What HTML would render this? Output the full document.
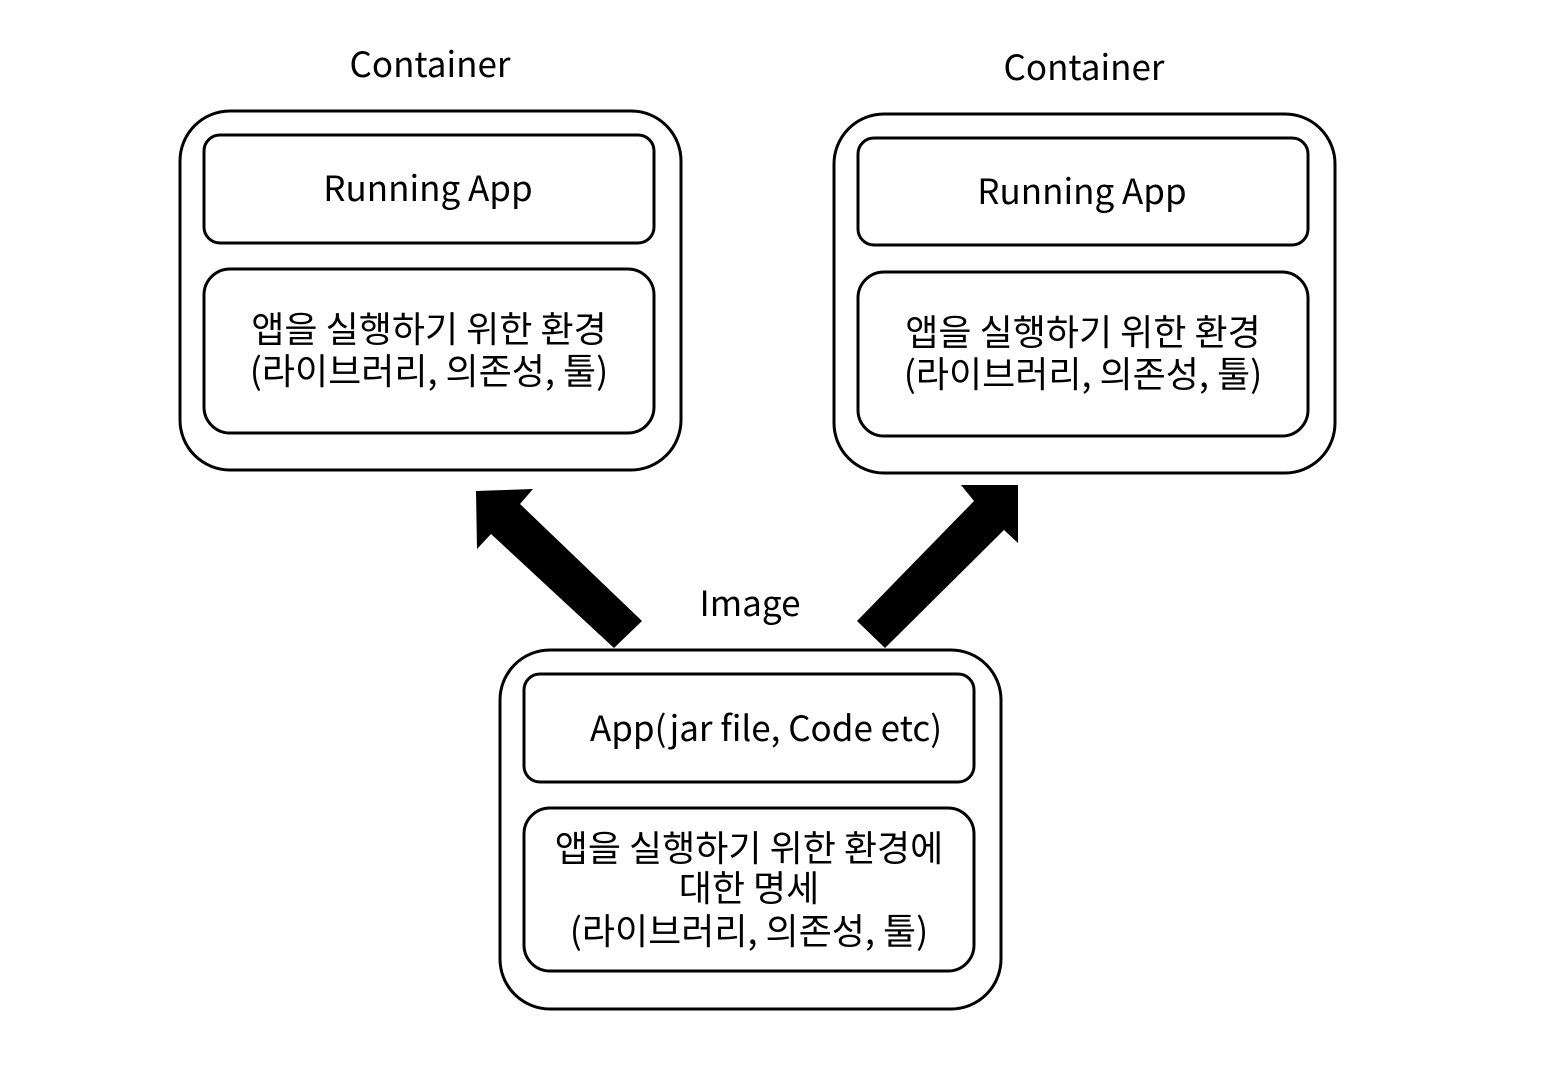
<!DOCTYPE html>
<html><head><meta charset="utf-8"><style>
html,body{margin:0;padding:0;background:#fff;}
svg{display:block;}
text{font-family:"Noto Sans CJK KR","Liberation Sans",sans-serif;font-size:35px;fill:#000;text-anchor:middle;}
.k{font-size:36px;}
</style></head><body>
<svg width="1548" height="1068" viewBox="0 0 1548 1068" xmlns="http://www.w3.org/2000/svg">
<g fill="none" stroke="#000" stroke-width="3">
<rect x="180" y="111" width="501" height="359" rx="50"/>
<rect x="204" y="135" width="450" height="108" rx="16"/>
<rect x="204" y="269" width="450" height="164" rx="26"/>
<rect x="834" y="114" width="501" height="359" rx="50"/>
<rect x="858" y="138" width="450" height="107" rx="16"/>
<rect x="858" y="272" width="450" height="164" rx="26"/>
<rect x="500" y="650" width="501" height="359" rx="50"/>
<rect x="524" y="674" width="450" height="108" rx="16"/>
<rect x="524" y="808" width="450" height="163" rx="26"/>
</g>
<polygon points="476,491 533,489 520,504 642,621 614,648 491,534 477,549" fill="#000"/>
<polygon points="1018,485 961,485 974,501 857,621 885,648 1004,530 1018,543" fill="#000"/>
<text x="430" y="77">Container</text>
<text x="1084" y="80">Container</text>
<text x="428" y="201">Running App</text>
<text x="1082" y="204">Running App</text>
<text class="k" x="429" y="342">앱을 실행하기 위한 환경</text>
<text class="k" x="429" y="384">(라이브러리, 의존성, 툴)</text>
<text class="k" x="1083" y="345">앱을 실행하기 위한 환경</text>
<text class="k" x="1083" y="387">(라이브러리, 의존성, 툴)</text>
<text x="750" y="616">Image</text>
<text x="766" y="741">App(jar file, Code etc)</text>
<text class="k" x="749" y="861">앱을 실행하기 위한 환경에</text>
<text class="k" x="749" y="901">대한 명세</text>
<text class="k" x="749" y="944">(라이브러리, 의존성, 툴)</text>
</svg>
</body></html>
